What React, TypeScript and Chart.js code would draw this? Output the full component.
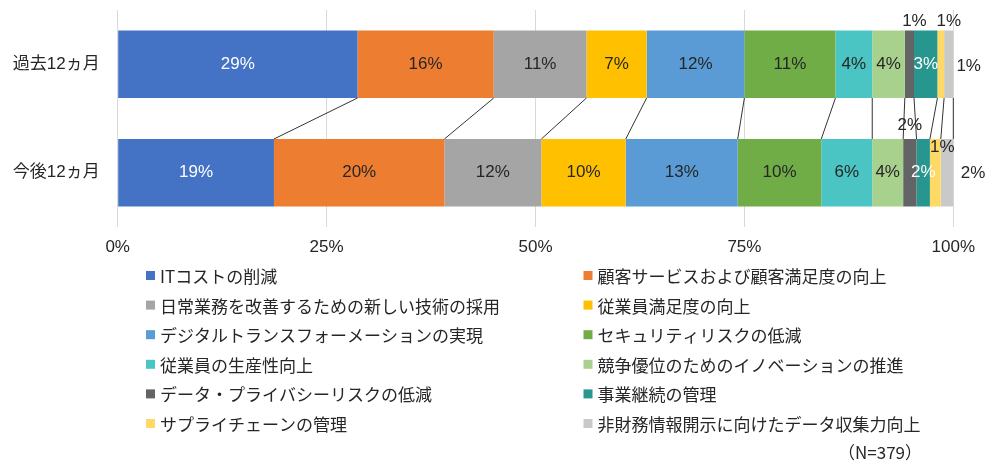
import React, { useEffect, useRef } from "react";
import { Chart, registerables } from "chart.js";

Chart.register(...registerables);

const categories = ["過去12ヵ月", "今後12ヵ月"];

const seriesNames = [
  "ITコストの削減",
  "顧客サービスおよび顧客満足度の向上",
  "日常業務を改善するための新しい技術の採用",
  "従業員満足度の向上",
  "デジタルトランスフォーメーションの実現",
  "セキュリティリスクの低減",
  "従業員の生産性向上",
  "競争優位のためのイノベーションの推進",
  "データ・プライバシーリスクの低減",
  "事業継続の管理",
  "サプライチェーンの管理",
  "非財務情報開示に向けたデータ収集力向上",
];

const seriesColors = [
  "#4472C4",
  "#ED7D31",
  "#A5A5A5",
  "#FFC000",
  "#5B9BD5",
  "#70AD47",
  "#4BC4C4",
  "#A9D18E",
  "#636466",
  "#26968F",
  "#FFD966",
  "#C9C9C9",
];

// share (%) per series, past 12 months
const past12 = [28.7, 16.3, 11.1, 7.2, 11.7, 10.9, 4.4, 3.9, 1.1, 2.8, 0.8, 1.1];
// share (%) per series, next 12 months
const next12 = [18.7, 20.4, 11.6, 10.1, 13.4, 10.0, 6.1, 3.7, 1.6, 1.6, 1.3, 1.5];

const xTickValues = [0, 25, 50, 75, 100];
const sampleNote = "（N=379）";

const FONT = '"Liberation Sans", "Noto Sans CJK JP", sans-serif';
const JP_FONT = '"Noto Sans CJK JP", "Liberation Sans", sans-serif';
const TEXT = "#262626";

// label styling: white text on dark segments, offsets for labels placed outside small segments
const whiteLabelSeries = [0, 9];
const labelOffsets: Record<string, [number, number]> = {
  "0:8": [5, -42.5],
  "0:10": [8, -42.5],
  "0:11": [20, 2],
  "1:8": [0, -47],
  "1:10": [7, -25],
  "1:11": [26, 1],
};

const seriesLinePlugin = {
  id: "seriesLines",
  afterDatasetsDraw(chart: any) {
    const ctx = chart.ctx;
    ctx.save();
    ctx.strokeStyle = "#333333";
    ctx.lineWidth = 1;
    chart.data.datasets.forEach((_: any, i: number) => {
      const meta = chart.getDatasetMeta(i);
      const a = meta.data[0] as any;
      const b = meta.data[1] as any;
      if (!a || !b) return;
      ctx.beginPath();
      ctx.moveTo(a.x, a.y + a.height / 2);
      ctx.lineTo(b.x, b.y - b.height / 2);
      ctx.stroke();
    });
    ctx.restore();
  },
};

const dataLabelPlugin = {
  id: "dataLabels",
  afterDatasetsDraw(chart: any) {
    const ctx = chart.ctx;
    ctx.save();
    ctx.font = `17px ${FONT}`;
    ctx.textAlign = "center";
    ctx.textBaseline = "middle";
    chart.data.datasets.forEach((ds: any, i: number) => {
      const meta = chart.getDatasetMeta(i);
      meta.data.forEach((el: any, j: number) => {
        const v = ds.data[j];
        const off = labelOffsets[`${j}:${i}`];
        let cx = (el.x + el.base) / 2;
        let cy = el.y;
        let color = whiteLabelSeries.includes(i) ? "#FFFFFF" : TEXT;
        if (off) {
          cx += off[0];
          cy += off[1];
          color = TEXT;
        }
        ctx.fillStyle = color;
        ctx.fillText(`${Math.round(v)}%`, cx, cy);
      });
    });
    ctx.restore();
  },
};

const legendPlugin = {
  id: "customLegend",
  afterDraw(chart: any) {
    const ctx = chart.ctx;
    ctx.save();
    ctx.font = `17px ${JP_FONT}`;
    ctx.textBaseline = "middle";
    ctx.textAlign = "left";
    const colX = [146, 583.5];
    const rowY0 = 275.5;
    const rowH = 29.6;
    chart.data.datasets.forEach((ds: any, i: number) => {
      const col = i % 2;
      const row = Math.floor(i / 2);
      const x = colX[col];
      const y = rowY0 + row * rowH;
      ctx.fillStyle = ds.backgroundColor;
      ctx.fillRect(x, y - 4.5, 9, 9);
      ctx.fillStyle = TEXT;
      ctx.fillText(ds.label, x + 14, y + 1);
    });
    ctx.textAlign = "right";
    ctx.fillText(sampleNote, 922, 453);
    ctx.restore();
  },
};

export default function App() {
  const ref = useRef<HTMLCanvasElement | null>(null);

  useEffect(() => {
    if (!ref.current) return;
    const chart = new Chart(ref.current, {
      type: "bar",
      data: {
        labels: categories,
        datasets: seriesNames.map((name, i) => ({
          label: name,
          data: [past12[i], next12[i]],
          backgroundColor: seriesColors[i],
          borderWidth: 0,
          barPercentage: 0.622,
          categoryPercentage: 1,
        })),
      },
      options: {
        indexAxis: "y",
        animation: false,
        responsive: false,
        devicePixelRatio: 1,
        layout: { padding: { left: 0, top: 10, right: 46.7, bottom: 213 } },
        plugins: {
          legend: { display: false },
          tooltip: { enabled: false },
        },
        scales: {
          x: {
            stacked: true,
            min: 0,
            max: 100,
            afterFit: (s: any) => {
              s.height = 30;
              s.paddingLeft = 0;
              s.paddingRight = 0;
            },
            afterBuildTicks: (s: any) => {
              s.ticks = xTickValues.map((v) => ({ value: v }));
            },
            ticks: {
              padding: 10,
              color: TEXT,
              font: { family: FONT, size: 17 },
              callback: (v: any) => `${v}%`,
            },
            grid: { color: "#D9D9D9", drawTicks: false, lineWidth: 1 },
            border: { display: false },
          },
          y: {
            stacked: true,
            afterFit: (s: any) => {
              s.width = 117.7;
              s.paddingTop = 0;
              s.paddingBottom = 0;
            },
            ticks: {
              padding: 18,
              color: TEXT,
              font: { family: FONT, size: 17 },
            },
            grid: { display: false, drawTicks: false },
            border: { display: false },
          },
        },
      },
      plugins: [seriesLinePlugin, dataLabelPlugin, legendPlugin],
    } as any);
    return () => chart.destroy();
  }, []);

  return (
    <div style={{ position: "fixed", left: 0, top: 0, width: 1000, height: 470, background: "#fff" }}>
      <canvas ref={ref} width={1000} height={470} style={{ display: "block" }} />
    </div>
  );
}
